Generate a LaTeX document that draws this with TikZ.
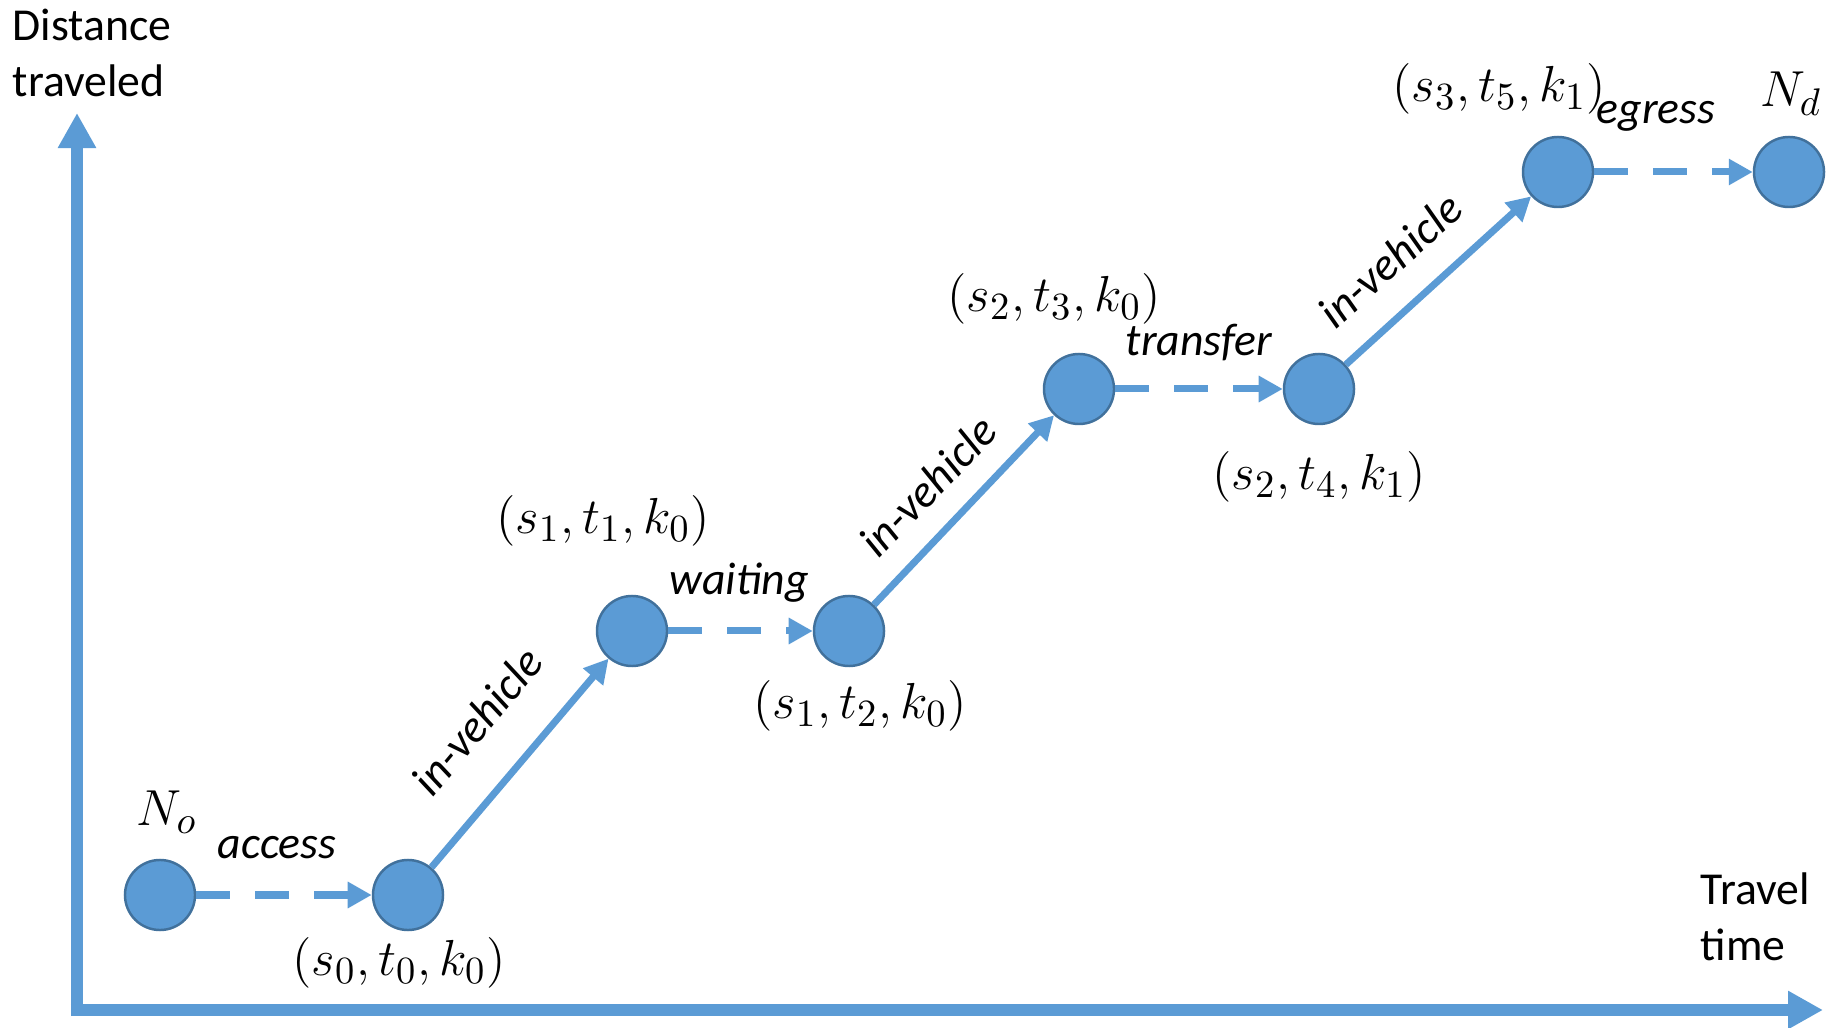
\documentclass[tikz,border=0pt]{standalone}
\usepackage{fontspec}
\setmainfont{Carlito}
\usetikzlibrary{arrows.meta}

\definecolor{nodeblue}{RGB}{91,155,213}
\definecolor{edgeblue}{RGB}{65,113,156}

\tikzset{
    stop/.style={circle, fill=nodeblue, draw=edgeblue, line width=0.7pt,
                 minimum size=0.7cm, inner sep=0pt},
    axis/.style={draw=nodeblue, line width=0.12cm,
                 -{Triangle[length=0.35cm, width=0.36cm]}},
    ride/.style={draw=nodeblue, line width=0.07cm,
                 -{Triangle[length=0.24cm, width=0.25cm]}},
    walk/.style={ride, dash pattern=on 0.34cm off 0.25cm},
    lbl/.style={font=\fontsize{13}{16}\selectfont, inner sep=0pt},
    mlbl/.style={font=\fontsize{15}{18}\selectfont, inner sep=0pt},
    act/.style={lbl, font=\fontsize{13}{16}\selectfont\itshape}
}

\begin{document}
\begin{tikzpicture}[x=0.01cm, y=-0.01cm]
\useasboundingbox (0,0) rectangle (1833,1028);

% axes
\coordinate (origin) at (77,1010);
\coordinate (ytip) at (77,113);
\coordinate (xtip) at (1823,1010);
\draw[axis] ([yshift=-0.06cm]origin) -- (ytip);
\draw[axis] ([xshift=-0.06cm]origin) -- (xtip);
\node[lbl, align=left, anchor=north west] (ylab) at (12,8) {Distance\\traveled};
\node[lbl, align=left, anchor=north west] (xlab) at (1700,872) {Travel\\time};

% stops
\node[stop] (No)   at (160,895) {};
\node[stop] (s0t0) at (408,895) {};
\node[stop] (s1t1) at (632,631) {};
\node[stop] (s1t2) at (849,631) {};
\node[stop] (s2t3) at (1079,389) {};
\node[stop] (s2t4) at (1319,389) {};
\node[stop] (s3t5) at (1558,172) {};
\node[stop] (Nd)   at (1789,172) {};

% legs
\draw[walk] (No) -- (s0t0);
\draw[ride] (s0t0) -- (s1t1);
\draw[walk] (s1t1) -- (s1t2);
\draw[ride] (s1t2) -- (s2t3);
\draw[walk] (s2t3) -- (s2t4);
\draw[ride] (s2t4) -- (s3t5);
\draw[walk] (s3t5) -- (Nd);

% labels
\node[mlbl] (lNo)   at (167,812)  {$N_o$};
\node[mlbl] (lNd)   at (1791,94)  {$N_d$};
\node[mlbl] (ls0t0) at (399,963)  {$(s_0,t_0,k_0)$};
\node[mlbl] (ls1t1) at (603,521)  {$(s_1,t_1,k_0)$};
\node[mlbl] (ls1t2) at (860,706)  {$(s_1,t_2,k_0)$};
\node[mlbl] (ls2t3) at (1054,299) {$(s_2,t_3,k_0)$};
\node[mlbl] (ls2t4) at (1319,477) {$(s_2,t_4,k_1)$};
\node[mlbl] (ls3t5) at (1499,89)  {$(s_3,t_5,k_1)$};

\node[act] (access)   at (277,848)  {access};
\node[act] (waiting)  at (739,583)  {waiting};
\node[act] (transfer) at (1199,343) {transfer};
\node[act] (egress)   at (1656,116) {egress};
\node[act, rotate=50] (inv1) at (477,721) {in-vehicle};
\node[act, rotate=46] (inv2) at (928,486) {in-vehicle};
\node[act, rotate=42] (inv3) at (1390,260) {in-vehicle};
\end{tikzpicture}
\end{document}
